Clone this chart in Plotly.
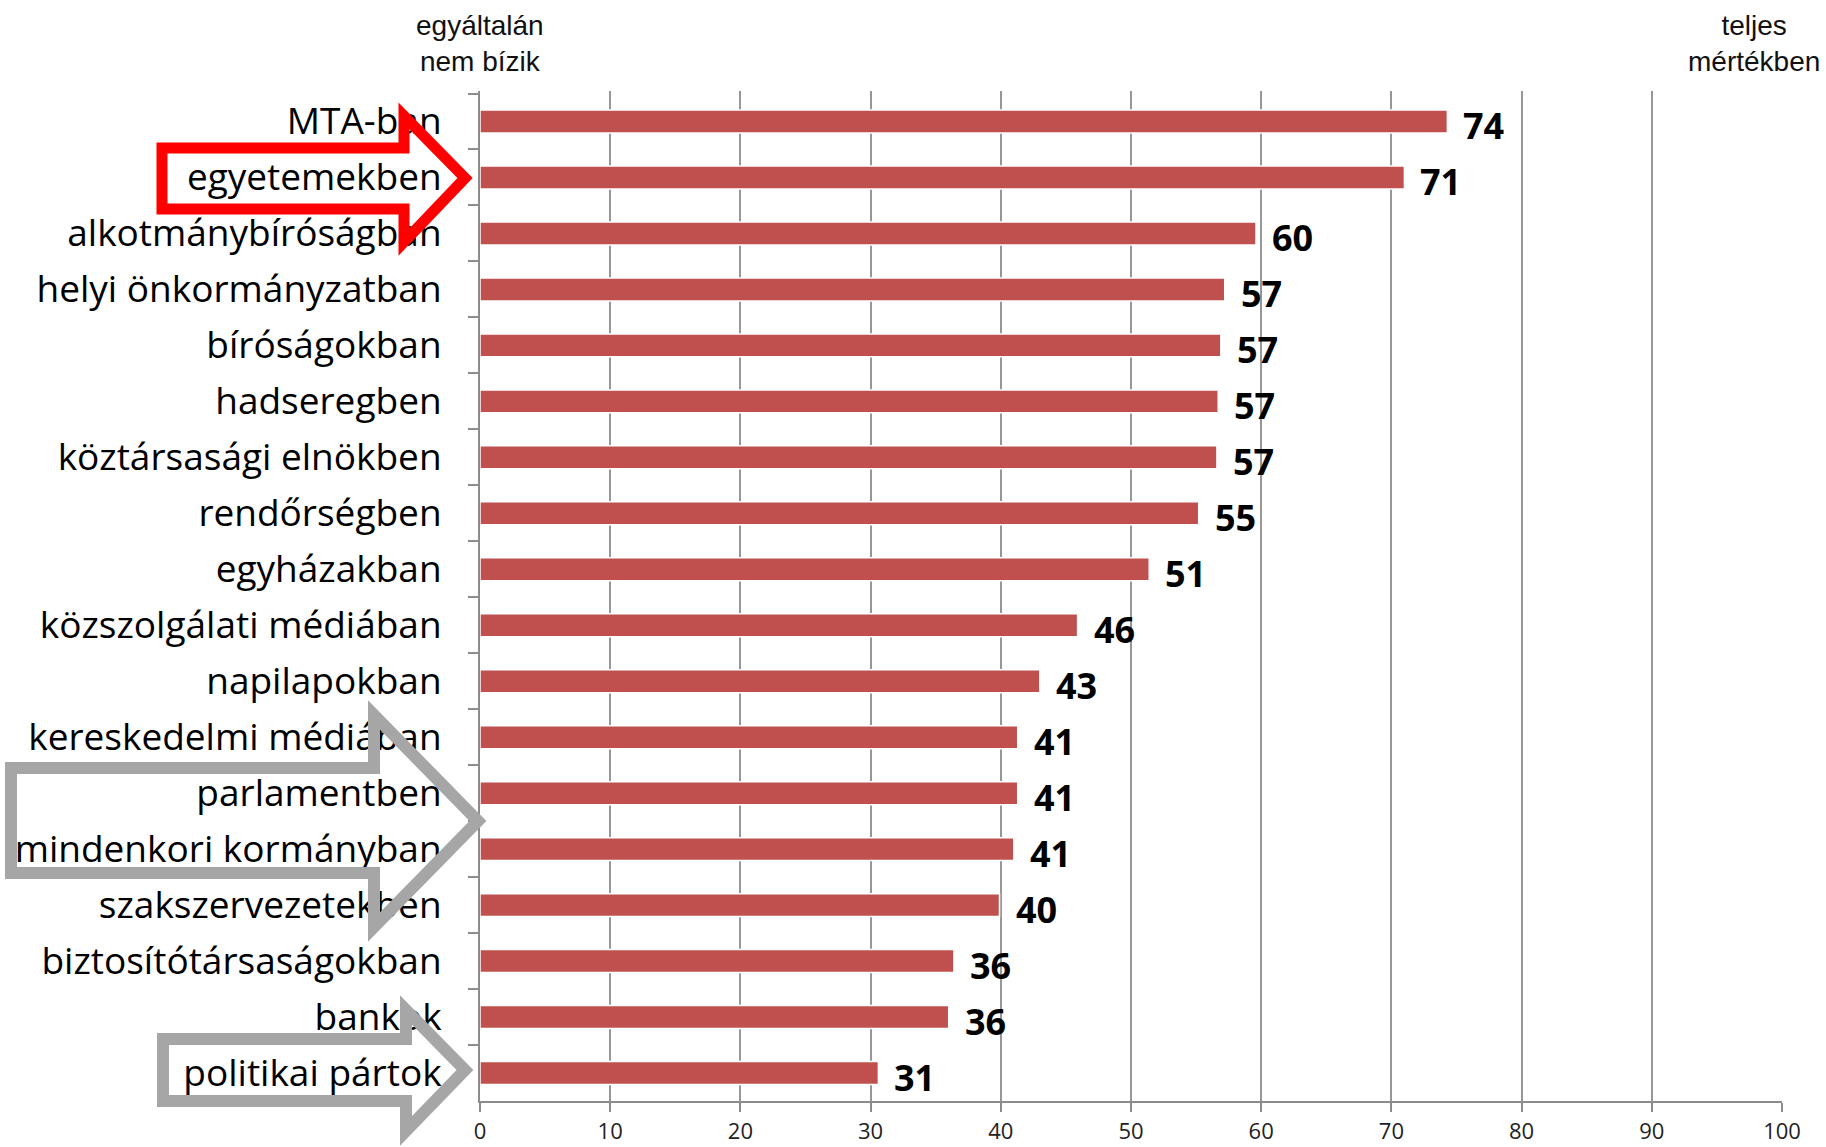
import plotly.graph_objects as go

# ---------------- data ----------------
categories = ["MTA-ban", "egyetemekben", "alkotmánybíróságban", "helyi önkormányzatban",
              "bíróságokban", "hadseregben", "köztársasági elnökben", "rendőrségben",
              "egyházakban", "közszolgálati médiában", "napilapokban", "kereskedelmi médiában",
              "parlamentben", "mindenkori kormányban", "szakszervezetekben",
              "biztosítótársaságokban", "bankok", "politikai pártok"]
values = [74.3, 71.0, 59.6, 57.2, 56.9, 56.7, 56.6, 55.2, 51.4, 45.9, 43.0,
          41.3, 41.3, 41.0, 39.9, 36.4, 36.0, 30.6]
value_labels = [f"{v:.0f}" for v in values]
x_ticks = list(range(0, 101, 10))
left_title = "egyáltalán<br>nem bízik"
right_title = "teljes<br>mértékben"

# ---------------- layout geometry ----------------
FW, FH = 1826, 1147
L, R, T, B = 480, 44, 91, 46
PW, PH = FW - L - R, FH - T - B


def pp(x, y):
    return (x - L) / PW, 1 - (y - T) / PH


def arrow_path(left, top, bottom, base, head_top, tip_x, tip_y, head_bottom):
    pts = [(left, top), (base, top), (base, head_top), (tip_x, tip_y),
           (base, head_bottom), (base, bottom), (left, bottom)]
    conv = [pp(x, y) for x, y in pts]
    return "M " + " L ".join(f"{a:.5f},{b:.5f}" for a, b in conv) + " Z"


BAR = "#C0504D"

fig = go.Figure()
fig.add_trace(go.Bar(
    x=values, y=categories, orientation="h",
    marker=dict(color=BAR, line=dict(color="white", width=1.5)),
    hoverinfo="x+y",
))

annotations = []
for c, v, lab in zip(categories, values, value_labels):
    annotations.append(dict(
        x=v, y=c, xref="x", yref="y", text=f"<b>{lab}</b>", showarrow=False,
        xanchor="left", yanchor="middle", xshift=14, yshift=-4,
        font=dict(family="Open Sans", size=36, color="black"),
    ))

lx, ly = pp(480, 44)
rx, ry = pp(1754, 44)
annotations.append(dict(x=lx, y=ly, xref="paper", yref="paper", text=left_title,
                        showarrow=False, xanchor="center", yanchor="middle",
                        font=dict(family="Liberation Sans", size=28, color="#111")))
annotations.append(dict(x=rx, y=ry, xref="paper", yref="paper", text=right_title,
                        showarrow=False, xanchor="center", yanchor="middle",
                        font=dict(family="Liberation Sans", size=28, color="#111")))

shapes = [
    dict(type="path", xref="paper", yref="paper", layer="above",
         path=arrow_path(162, 148, 209, 404, 116, 465, 178, 242),
         line=dict(color="#FF0000", width=11), fillcolor="rgba(0,0,0,0)"),
    dict(type="path", xref="paper", yref="paper", layer="above",
         path=arrow_path(11, 768, 873, 374, 715, 478, 821, 927),
         line=dict(color="#A6A6A6", width=12), fillcolor="rgba(0,0,0,0)"),
    dict(type="path", xref="paper", yref="paper", layer="above",
         path=arrow_path(163, 1039, 1101, 406, 1010, 465, 1070, 1131),
         line=dict(color="#A6A6A6", width=12), fillcolor="rgba(0,0,0,0)"),
]

fig.update_layout(
    width=FW, height=FH,
    margin=dict(l=L, r=R, t=T, b=B, autoexpand=False),
    paper_bgcolor="white", plot_bgcolor="white",
    showlegend=False, bargap=0.59,
    annotations=annotations, shapes=shapes,
    font=dict(family="Open Sans", color="black"),
)
fig.update_xaxes(
    range=[0, 100], tickvals=x_ticks, ticktext=[str(t) for t in x_ticks],
    showgrid=True, gridcolor="#979797", gridwidth=2,
    showline=True, linecolor="#8c8c8c", linewidth=2,
    ticks="outside", ticklen=9, tickcolor="#8c8c8c", tickwidth=1.5,
    tickfont=dict(family="Open Sans", size=22, color="#222"),
    ticklabelstandoff=1,
    zeroline=False, automargin=False,
)
fig.update_yaxes(
    categoryorder="array", categoryarray=categories, autorange="reversed",
    showline=True, linecolor="#8c8c8c", linewidth=2,
    ticks="outside", tickson="boundaries", ticklen=10, tickcolor="#8c8c8c", tickwidth=1.5,
    tickfont=dict(family="Open Sans", size=37, color="black"),
    ticklabelstandoff=29, showgrid=False, automargin=False,
)

fig.write_html("out.html", config={"displayModeBar": False},
               post_script="document.body.style.margin='0px';document.body.style.overflow='hidden';")
